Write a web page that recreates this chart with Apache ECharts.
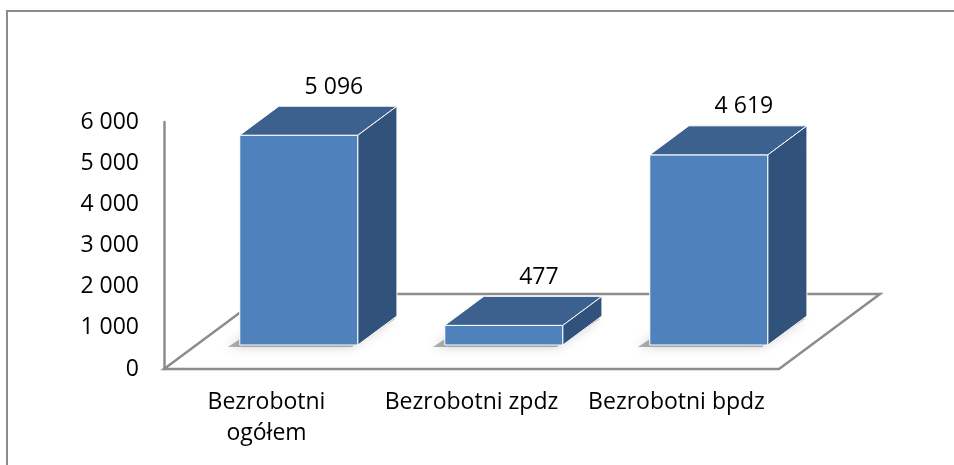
<!DOCTYPE html>
<html>
<head>
<meta charset="utf-8">
<script src="https://cdn.jsdelivr.net/npm/echarts@6/dist/echarts.min.js"></script>
<style>
  html, body { margin: 0; padding: 0; background: #fff; }
  #chart { width: 954px; height: 465px; }
</style>
</head>
<body>
<div id="chart"></div>
<script>
// dane wykresu
var categories = ['Bezrobotni\nogółem', 'Bezrobotni zpdz', 'Bezrobotni bpdz'];
var values = [5096, 477, 4619];
var yMin = 0, yMax = 6000, yStep = 1000;

// glebokosc podlogi 3D (px)
var DX = 101, DY = -75;
var FRONT = 0.32;   // przod slupka w glebi podlogi
var DEPTH = 0.387;  // glebokosc slupka
var FONT = '"Open Sans", "Noto Sans", sans-serif';

function fmt(v) {
    return String(v).replace(/\B(?=(\d{3})+(?!\d))/g, ' ');
}

var chart = echarts.init(document.getElementById('chart'));

// podloga
function renderFloor(params, api) {
    var bw = api.size([1, 0])[0];
    var a = api.coord([0, 0]);
    var b = api.coord([categories.length - 1, 0]);
    var l = a[0] - bw / 2, r = b[0] + bw / 2, y = a[1];
    return {
        type: 'polygon',
        shape: { points: [[l, y], [r, y], [r + DX, y + DY], [l + DX, y + DY]] },
        style: { fill: '#fff', stroke: '#8c8c8c', lineWidth: 2.5 }
    };
}

// slupki 3D
function renderBar(params, api) {
    var i = api.value(0), v = api.value(1);
    var c = api.coord([i, v]);
    var base = api.coord([i, 0]);
    var bw = api.size([1, 0])[0];
    var w = bw * 0.576;
    var x0 = c[0] + FRONT * DX - w / 2, x1 = x0 + w;
    var yt = c[1] + FRONT * DY, yb = base[1] + FRONT * DY;
    var dx = DEPTH * DX, dy = DEPTH * DY;
    var edge = { stroke: '#fff', lineWidth: 1 };
    return {
        type: 'group',
        children: [
            // cien pod slupkiem
            {
                type: 'polygon',
                shape: { points: [[x0 - 12, yb + 2], [x1 - 6, yb + 2], [x1 + dx - 2, yb + dy + 3], [x0 + dx - 8, yb + dy + 3]] },
                style: { fill: 'rgba(0,0,0,0.3)', shadowBlur: 12, shadowColor: 'rgba(0,0,0,0.6)' }
            },
            {
                type: 'polygon',
                shape: { points: [[x0, yt], [x1, yt], [x1, yb], [x0, yb]] },
                style: Object.assign({ fill: '#4f81bd' }, edge)
            },
            {
                type: 'polygon',
                shape: { points: [[x0, yt], [x1, yt], [x1 + dx, yt + dy], [x0 + dx, yt + dy]] },
                style: Object.assign({ fill: '#3c618e' }, edge)
            },
            {
                type: 'polygon',
                shape: { points: [[x1, yt], [x1 + dx, yt + dy], [x1 + dx, yb + dy], [x1, yb]] },
                style: Object.assign({ fill: '#31527b' }, edge)
            },
            {
                type: 'text',
                style: {
                    x: x0 + w / 2 + dx - 4,
                    y: yt + dy - 19,
                    text: fmt(v),
                    font: '23px ' + FONT,
                    fill: '#000',
                    align: 'center',
                    verticalAlign: 'middle'
                }
            }
        ]
    };
}

var option = {
    animation: false,
    graphic: [{
        type: 'rect',
        shape: { x: 7, y: 11, width: 980, height: 500 },
        style: { fill: 'none', stroke: '#8c8c8c', lineWidth: 2 },
        z: -10
    }],
    grid: { left: 164, top: 122, width: 615, height: 247 },
    xAxis: {
        type: 'category',
        data: categories,
        axisLine: { show: false },
        axisTick: { show: false },
        axisLabel: {
            margin: 18,
            color: '#000',
            fontFamily: FONT,
            fontSize: 23,
            lineHeight: 31,
            interval: 0
        }
    },
    yAxis: {
        type: 'value',
        min: yMin,
        max: yMax,
        interval: yStep,
        axisLine: { show: true, lineStyle: { color: '#8c8c8c', width: 2.5 } },
        axisTick: { show: false },
        splitLine: { show: false },
        axisLabel: {
            margin: 25,
            color: '#000',
            fontFamily: FONT,
            fontSize: 23,
            formatter: fmt
        }
    },
    series: [
        {
            type: 'custom',
            renderItem: renderFloor,
            data: [[0, 0]],
            z: 1,
            silent: true
        },
        {
            type: 'custom',
            renderItem: renderBar,
            data: values.map(function (v, i) { return [i, v]; }),
            z: 2
        }
    ]
};

chart.setOption(option);
</script>
</body>
</html>
